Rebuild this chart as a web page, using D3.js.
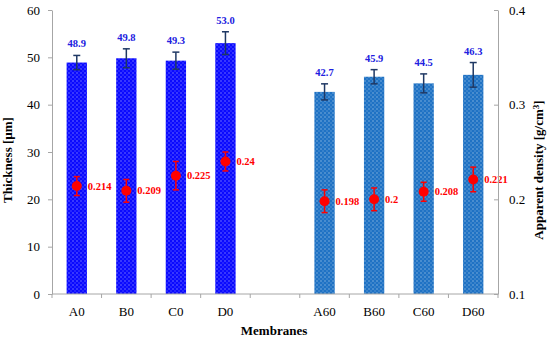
<!DOCTYPE html>
<html>
<head>
<meta charset="utf-8">
<script src="https://cdn.jsdelivr.net/npm/d3@7"></script>
<style>
  body { margin: 0; background: #fff; }
  svg { display: block; font-family: "Liberation Serif", "DejaVu Serif", serif; }
</style>
</head>
<body>
<svg id="chart" width="550" height="340"></svg>
<script>
// membranes (empty slot is the gap between the two groups)
var membranes = ["A0", "B0", "C0", "D0", "", "A60", "B60", "C60", "D60"];
var thickness = [48.9, 49.8, 49.3, 53.0, null, 42.7, 45.9, 44.5, 46.3];
var thicknessErr = [1.5, 2.0, 1.8, 2.4, null, 1.7, 1.5, 2.0, 2.6];
var density = [0.214, 0.209, 0.225, 0.24, null, 0.198, 0.2, 0.208, 0.221];
var densityErr = [0.010, 0.012, 0.015, 0.010, null, 0.012, 0.012, 0.010, 0.013];
var leftTicks = [0, 10, 20, 30, 40, 50, 60];
var rightTicks = [0.1, 0.2, 0.3, 0.4];

var svg = d3.select("#chart");
var plotLeft = 52, plotRight = 498, plotTop = 10, plotBottom = 294;

var x = d3.scaleBand().domain(d3.range(membranes.length)).range([plotLeft, plotRight]).padding(0);
var y = d3.scaleLinear().domain([0, 60]).range([plotBottom, plotTop]);
var y2 = d3.scaleLinear().domain([0.1, 0.4]).range([plotBottom, plotTop]);
var barW = x.bandwidth() * 0.41;

// dotted fill patterns
var defs = svg.append("defs");
function makePattern(id, color) {
  var p = defs.append("pattern").attr("id", id)
    .attr("patternUnits", "userSpaceOnUse")
    .attr("width", 4).attr("height", 4);
  p.append("rect").attr("width", 4).attr("height", 4).attr("fill", color);
  p.append("rect").attr("x", 0.5).attr("y", 0.5).attr("width", 1).attr("height", 1)
    .attr("fill", "#fff").attr("opacity", 0.75);
  p.append("rect").attr("x", 2.5).attr("y", 2.5).attr("width", 1).attr("height", 1)
    .attr("fill", "#fff").attr("opacity", 0.45);
}
makePattern("dotBlue", "#0a0aff");
makePattern("dotSteel", "#1f72c4");

var idx = d3.range(membranes.length).filter(function (i) { return thickness[i] != null; });

function cx(i) { return x(i) + x.bandwidth() / 2; }

// bars
svg.append("g").selectAll("rect").data(idx).join("rect")
  .attr("x", function (i) { return cx(i) - barW / 2; })
  .attr("y", function (i) { return y(thickness[i]); })
  .attr("width", barW)
  .attr("height", function (i) { return y(0) - y(thickness[i]); })
  .attr("fill", function (i) { return i < 4 ? "url(#dotBlue)" : "url(#dotSteel)"; });

// bar error bars
var eb = svg.append("g").attr("stroke", "#1f3864").attr("stroke-width", 1.5);
idx.forEach(function (i) {
  var t = y(thickness[i] + thicknessErr[i]), b = y(thickness[i] - thicknessErr[i]);
  eb.append("line").attr("x1", cx(i)).attr("x2", cx(i)).attr("y1", t).attr("y2", b);
  eb.append("line").attr("x1", cx(i) - 3.5).attr("x2", cx(i) + 3.5).attr("y1", t).attr("y2", t);
  eb.append("line").attr("x1", cx(i) - 3.5).attr("x2", cx(i) + 3.5).attr("y1", b).attr("y2", b);
});

// bar labels
svg.append("g").selectAll("text").data(idx).join("text")
  .attr("x", function (i) { return cx(i); })
  .attr("y", function (i) { return y(thickness[i] + thicknessErr[i]) - 8; })
  .attr("text-anchor", "middle")
  .attr("font-size", 10.5).attr("font-weight", "bold").attr("fill", "#2020e0")
  .text(function (i) { return thickness[i].toFixed(1); });

// density error bars
var rb = svg.append("g").attr("stroke", "#ff0000").attr("stroke-width", 1.5);
idx.forEach(function (i) {
  var t = y2(density[i] + densityErr[i]), b = y2(density[i] - densityErr[i]);
  rb.append("line").attr("x1", cx(i)).attr("x2", cx(i)).attr("y1", t).attr("y2", b);
  rb.append("line").attr("x1", cx(i) - 3).attr("x2", cx(i) + 3).attr("y1", t).attr("y2", t);
  rb.append("line").attr("x1", cx(i) - 3).attr("x2", cx(i) + 3).attr("y1", b).attr("y2", b);
});

// density points
svg.append("g").selectAll("circle").data(idx).join("circle")
  .attr("cx", function (i) { return cx(i); })
  .attr("cy", function (i) { return y2(density[i]); })
  .attr("r", 5)
  .attr("fill", "#ff0000");

svg.append("g").selectAll("text").data(idx).join("text")
  .attr("x", function (i) { return cx(i) + 11; })
  .attr("y", function (i) { return y2(density[i]) + 3.5; })
  .attr("font-size", 10.5).attr("font-weight", "bold").attr("fill", "#ff0000")
  .text(function (i) { return String(density[i]); });

// axes
function styleAxis(g) {
  g.selectAll("path, line").attr("stroke", "#a6a6a6");
  g.selectAll("text").attr("font-size", 13).attr("fill", "#000")
    .attr("font-family", "Liberation Serif, serif");
}

svg.append("g").attr("transform", "translate(" + plotLeft + ",0)")
  .call(d3.axisLeft(y).tickValues(leftTicks).tickSize(4).tickPadding(8).tickSizeOuter(0))
  .call(styleAxis);

svg.append("g").attr("transform", "translate(" + plotRight + ",0)")
  .call(d3.axisRight(y2).tickValues(rightTicks).tickSizeInner(-4).tickSizeOuter(0).tickPadding(11)
    .tickFormat(d3.format(".1f")))
  .call(styleAxis);

var xAxis = svg.append("g").attr("transform", "translate(0," + plotBottom + ")");
xAxis.append("line").attr("x1", plotLeft).attr("x2", plotRight).attr("stroke", "#a6a6a6");
xAxis.selectAll(".tk").data(d3.range(membranes.length + 1)).join("line")
  .attr("class", "tk")
  .attr("x1", function (i) { return plotLeft + i * x.step(); })
  .attr("x2", function (i) { return plotLeft + i * x.step(); })
  .attr("y1", 0).attr("y2", 4).attr("stroke", "#a6a6a6");
xAxis.selectAll(".lb").data(d3.range(membranes.length)).join("text")
  .attr("class", "lb")
  .attr("x", function (i) { return cx(i); })
  .attr("y", 22)
  .attr("text-anchor", "middle").attr("font-size", 13).attr("fill", "#000")
  .text(function (i) { return membranes[i]; });

// titles
svg.append("text").attr("x", 274).attr("y", 335)
  .attr("text-anchor", "middle").attr("font-size", 13).attr("font-weight", "bold")
  .text("Membranes");

svg.append("text").attr("transform", "translate(12,160) rotate(-90)")
  .attr("text-anchor", "middle").attr("font-size", 13).attr("font-weight", "bold")
  .text("Thickness [µm]");

var rt = svg.append("text").attr("transform", "translate(543,170) rotate(-90)")
  .attr("text-anchor", "middle").attr("font-size", 13).attr("font-weight", "bold");
rt.append("tspan").text("Apparent density [g/cm");
rt.append("tspan").attr("dy", -4).attr("font-size", 9).text("3");
rt.append("tspan").attr("dy", 4).text("]");
</script>
</body>
</html>
